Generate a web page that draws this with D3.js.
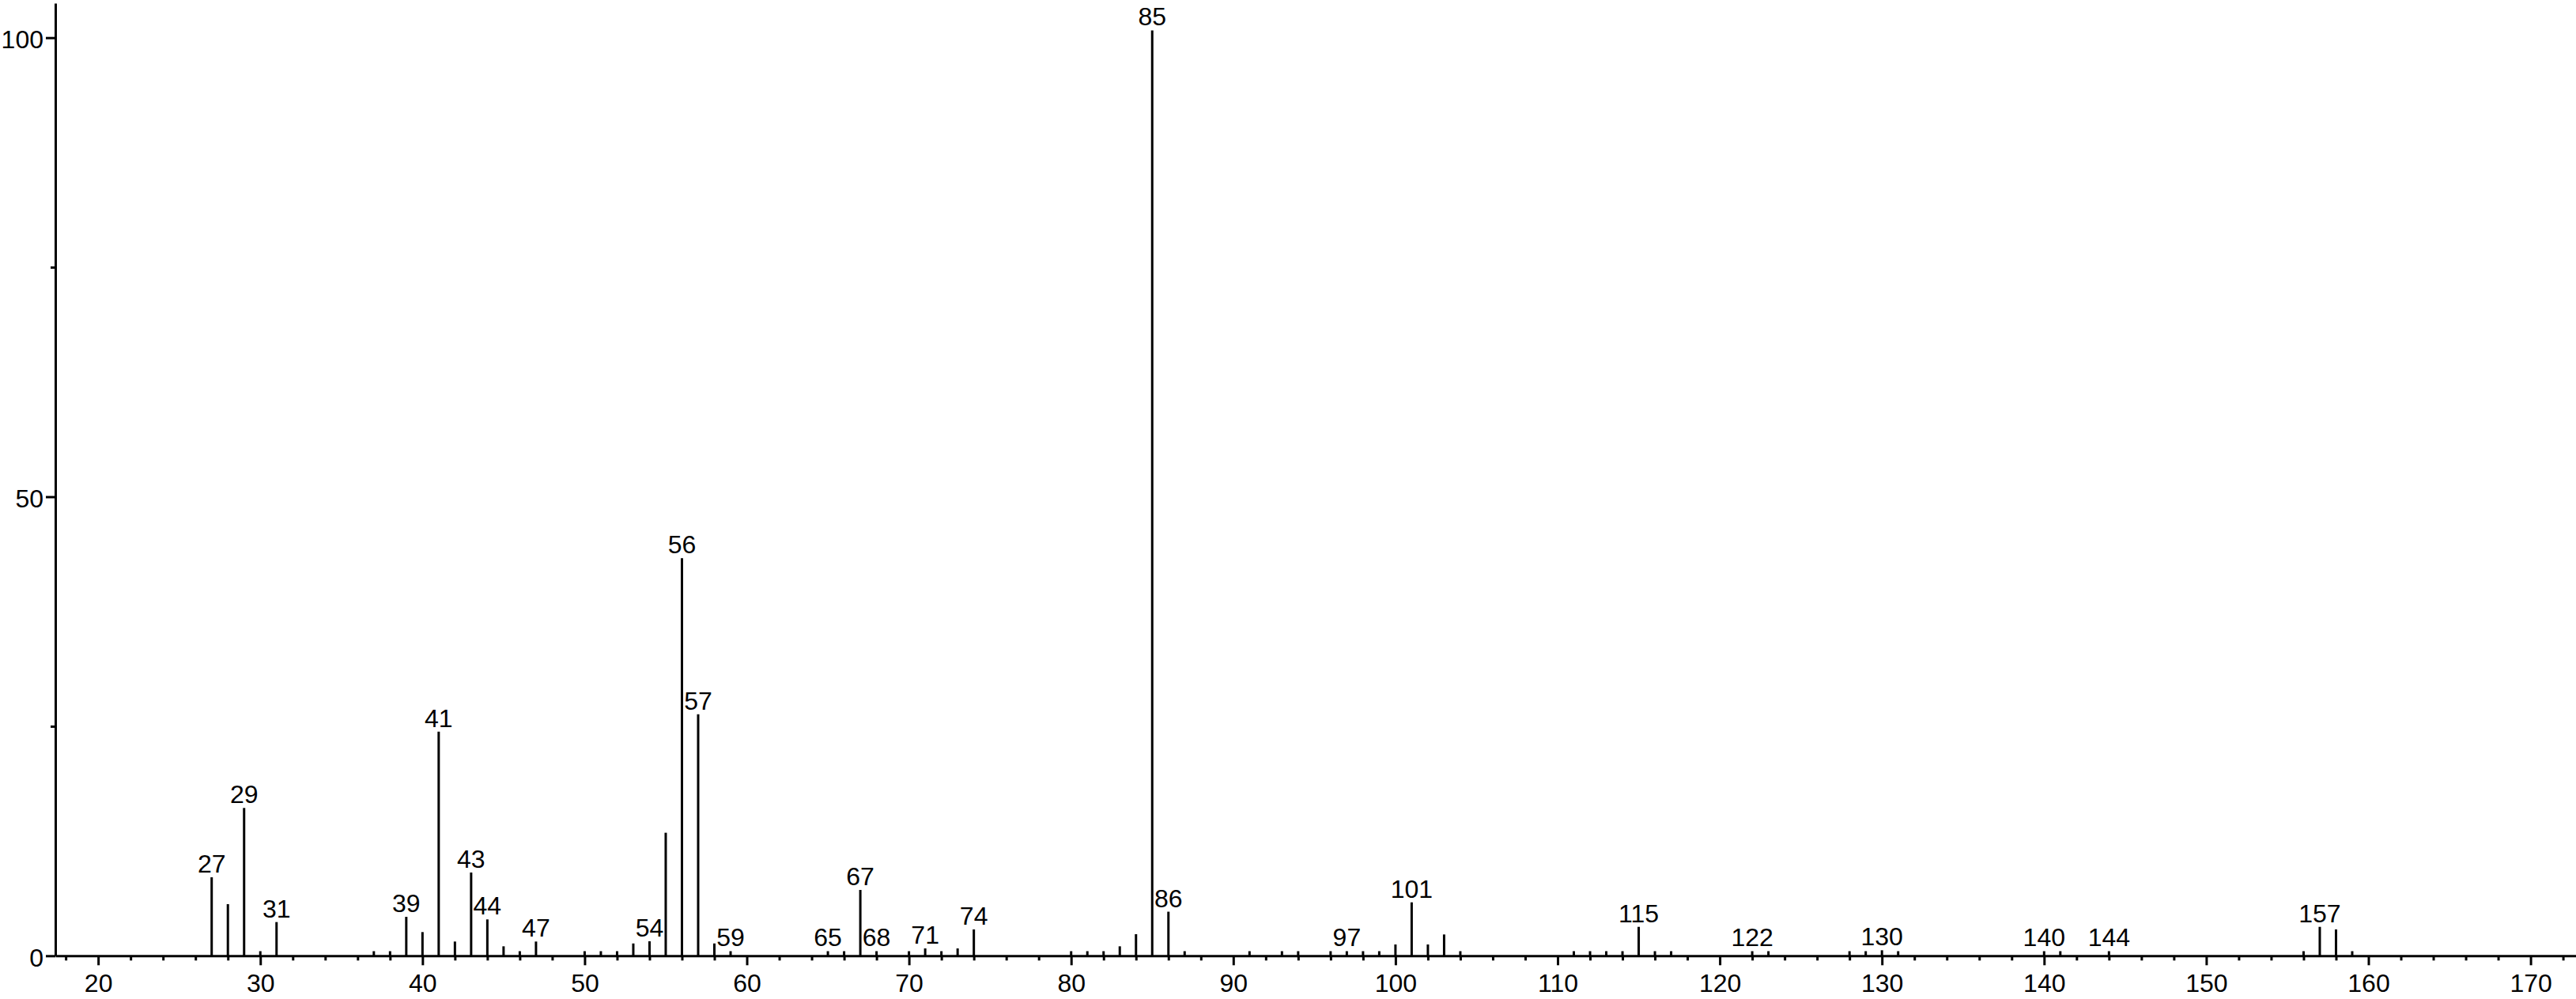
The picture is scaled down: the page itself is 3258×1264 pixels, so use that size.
<!DOCTYPE html>
<html>
<head>
<meta charset="utf-8">
<script src="https://cdn.jsdelivr.net/npm/d3@7"></script>
<style>
  body { margin: 0; background: #fff; }
  svg { display: block; }
  text { font-family: "Liberation Sans", Arial, sans-serif; }
</style>
</head>
<body>
<div id="chart"></div>
<script>
// m/z values and relative intensities
const mzValues = [27, 28, 29, 30, 31, 37, 38, 39, 40, 41, 42, 43, 44, 45, 46, 47,
    50, 51, 52, 53, 54, 55, 56, 57, 58, 59, 65, 66, 67, 68, 70, 71, 72, 73, 74,
    80, 81, 82, 83, 84, 85, 86, 87, 91, 93, 94, 96, 97, 98, 99, 100, 101, 102, 103, 104,
    111, 112, 113, 114, 115, 116, 117, 122, 123, 128, 129, 130, 131, 140, 141, 144,
    156, 157, 158, 159];
const intensities = [8.55, 5.62, 16.1, 0.5, 3.67, 0.5, 0.5, 4.24, 2.58, 24.4, 1.55, 9.07, 3.96, 1.03, 0.5, 1.55,
    0.5, 0.5, 0.5, 1.34, 1.58, 13.4, 43.3, 26.3, 1.34, 0.5, 0.5, 0.5, 7.17, 0.5, 0.5, 0.8, 0.5, 0.8, 2.87,
    0.5, 0.5, 0.5, 1.03, 2.35, 100.8, 4.8, 0.5, 0.5, 0.5, 0.5, 0.5, 0.5, 0.5, 0.5, 1.23, 5.82, 1.23, 2.32, 0.5,
    0.5, 0.5, 0.5, 0.5, 3.15, 0.5, 0.5, 0.5, 0.5, 0.5, 0.5, 0.6, 0.5, 0.5, 0.5, 0.5,
    0.5, 3.15, 2.87, 0.5];

// peaks that carry an m/z label
const labeledPeaks = [27, 29, 31, 39, 41, 43, 44, 47, 54, 56, 57, 59, 65, 67, 68, 71, 74,
    85, 86, 97, 101, 115, 122, 130, 140, 144, 157];

const xMajorTicks = [20, 30, 40, 50, 60, 70, 80, 90, 100, 110, 120, 130, 140, 150, 160, 170];
const xMinorTicks = d3.range(18, 173, 2).filter(v => v % 10 !== 0);
const yMajorTicks = [0, 50, 100];
const yMinorTicks = [25, 75];

const width = 3258, height = 1264;

const svg = d3.select("#chart").append("svg")
    .attr("width", width)
    .attr("height", height);

const x = d3.scaleLinear().domain([17.36, 172.8]).range([70, 3258]);
const y = d3.scaleLinear().domain([0, 103.76]).range([1209.3, 4]);

const peaks = mzValues.map((mz, i) => ({ mz: mz, value: intensities[i] }));

// x axis: minor ticks every 2, major every 10
const xMinor = svg.append("g")
    .attr("transform", `translate(0,${y(0)})`)
    .call(d3.axisBottom(x).tickValues(xMinorTicks).tickSize(6).tickSizeOuter(0).tickFormat(""));
xMinor.select(".domain").remove();

const xMajor = svg.append("g")
    .attr("transform", `translate(0,${y(0)})`)
    .call(d3.axisBottom(x).tickValues(xMajorTicks).tickSize(12).tickSizeOuter(0).tickPadding(11));

// y axis
const yMinor = svg.append("g")
    .attr("transform", `translate(${x.range()[0]},0)`)
    .call(d3.axisLeft(y).tickValues(yMinorTicks).tickSize(6).tickSizeOuter(0).tickFormat(""));
yMinor.select(".domain").remove();

const yMajor = svg.append("g")
    .attr("transform", `translate(${x.range()[0]},0)`)
    .call(d3.axisLeft(y).tickValues(yMajorTicks).tickSize(12).tickSizeOuter(0).tickPadding(3));

svg.selectAll(".domain, .tick line")
    .attr("stroke", "#000")
    .attr("stroke-width", 3);

svg.selectAll(".tick text")
    .attr("fill", "#000")
    .style("font-size", "32px")
    .style("font-family", "'Liberation Sans', Arial, sans-serif");

yMajor.selectAll(".tick text").attr("dy", "0.4em");

// peaks
svg.append("g")
    .selectAll("line")
    .data(peaks)
    .enter().append("line")
    .attr("x1", d => x(d.mz))
    .attr("x2", d => x(d.mz))
    .attr("y1", y(0))
    .attr("y2", d => y(d.value))
    .attr("stroke", "#000")
    .attr("stroke-width", 3);

// peak labels
svg.append("g")
    .selectAll("text")
    .data(peaks.filter(d => labeledPeaks.includes(d.mz)))
    .enter().append("text")
    .attr("x", d => x(d.mz))
    .attr("y", d => y(d.value) - 6)
    .attr("text-anchor", "middle")
    .style("font-size", "32px")
    .attr("fill", "#000")
    .text(d => d.mz);
</script>
</body>
</html>
